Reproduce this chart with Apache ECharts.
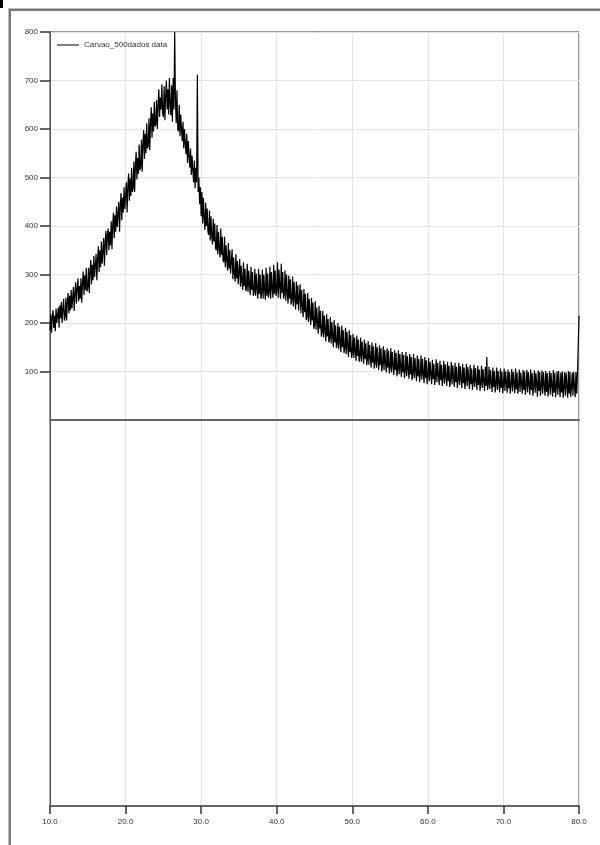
<!DOCTYPE html>
<html lang="en">

<head>
    <meta charset="UTF-8">
    <title>Carvao_500dados</title>
    <script src="https://cdn.jsdelivr.net/npm/echarts@6/dist/echarts.min.js"></script>
    <style>
        * {
            margin: 0;
            padding: 0;
        }
        body {
            width: 600px;
            height: 845px;
            background-color: #fff;
            overflow: hidden;
            position: relative;
        }
        .frame {
            position: absolute;
            left: 8px;
            top: 8px;
            width: 620px;
            height: 870px;
            border-left: 1px solid #bbb;
            border-top: 1px solid #bbb;
            box-shadow: inset 2px 2px 0 #777;
        }
        .mark {
            position: absolute;
            left: 0;
            top: 0;
            width: 3px;
            height: 8px;
            background: #000;
        }
        #box1 {
            position: absolute;
            left: 0;
            top: 0;
            width: 600px;
            height: 845px;
        }
    </style>
</head>

<body>
    <div class="mark"></div>
    <div class="frame"></div>
    <div id="box1"></div>
    <script>
        // 2theta from 10 to 80, step 0.1
        const twoThetaStart = 10;
        const twoThetaStep = 0.1;
        // intensity counts, 10 readings per degree
        const counts = [
            185, 218, 180, 212, 226, 190, 215, 183, 230, 200,   // 10
            198, 232, 190, 236, 210, 244, 200, 228, 250, 205,   // 11
            212, 252, 205, 244, 262, 220, 256, 226, 268, 230,   // 12
            232, 274, 225, 262, 284, 240, 270, 292, 245, 276,   // 13
            250, 292, 242, 284, 306, 258, 298, 268, 314, 265,   // 14
            272, 314, 262, 306, 330, 280, 320, 288, 338, 295,   // 15
            295, 342, 288, 332, 358, 305, 350, 315, 368, 322,   // 16
            326, 375, 318, 365, 390, 340, 382, 395, 350, 388,   // 17
            360, 410, 352, 402, 428, 375, 422, 388, 440, 398,   // 18
            395, 450, 388, 440, 468, 412, 458, 428, 480, 435,   // 19
            438, 490, 428, 482, 508, 452, 498, 462, 520, 470,   // 20
            478, 533, 470, 524, 553, 496, 540, 508, 568, 515,   // 21
            522, 578, 512, 570, 598, 538, 590, 550, 612, 560,   // 22
            565, 622, 556, 612, 645, 582, 632, 595, 656, 605,   // 23
            610, 660, 600, 648, 682, 625, 665, 640, 692, 632,   // 24
            625, 688, 618, 670, 700, 640, 682, 630, 705, 650,   // 25
            628, 690, 615, 705, 640, 800, 660, 612, 680, 600,   // 26
            595, 650, 585, 630, 600, 575, 615, 560, 600, 570,   // 27
            548, 590, 530, 575, 545, 520, 560, 505, 545, 515,   // 28
            490, 535, 478, 520, 490, 712, 470, 500, 445, 480,   // 29
            420, 470, 405, 458, 418, 392, 448, 400, 436, 388,   // 30
            382, 432, 370, 420, 380, 362, 415, 368, 405, 355,   // 31
            350, 402, 342, 388, 352, 335, 395, 340, 378, 330,   // 32
            325, 378, 315, 360, 328, 308, 365, 312, 350, 302,   // 33
            298, 352, 290, 335, 302, 285, 342, 292, 328, 280,   // 34
            282, 332, 275, 318, 285, 268, 325, 276, 312, 266,   // 35
            272, 322, 264, 308, 278, 258, 316, 268, 305, 256,   // 36
            262, 312, 256, 302, 270, 250, 312, 260, 300, 250,   // 37
            260, 310, 250, 300, 268, 248, 314, 256, 302, 252,   // 38
            262, 316, 250, 305, 270, 252, 320, 260, 308, 256,   // 39
            265, 325, 252, 310, 275, 250, 322, 262, 305, 250,   // 40
            258, 308, 246, 300, 262, 240, 298, 250, 290, 238,   // 41
            246, 296, 234, 285, 250, 228, 285, 238, 278, 226,   // 42
            230, 280, 220, 268, 235, 212, 270, 222, 260, 206,   // 43
            212, 262, 202, 250, 218, 196, 252, 205, 242, 188,   // 44
            196, 245, 186, 232, 200, 178, 235, 188, 225, 172,   // 45
            180, 225, 170, 215, 185, 162, 218, 172, 208, 160,   // 46
            168, 212, 158, 202, 172, 150, 206, 160, 195, 148,   // 47
            156, 200, 146, 192, 160, 140, 195, 150, 185, 138,   // 48
            146, 190, 136, 182, 150, 130, 185, 140, 175, 128,   // 49
            138, 178, 128, 170, 142, 122, 174, 132, 166, 120,   // 50
            130, 170, 120, 162, 135, 116, 166, 126, 158, 113,   // 51
            124, 163, 114, 155, 128, 108, 160, 118, 152, 106,   // 52
            118, 158, 108, 150, 122, 103, 154, 113, 148, 100,   // 53
            113, 152, 103, 145, 118, 98, 148, 108, 143, 96,     // 54
            108, 148, 98, 140, 112, 93, 144, 103, 138, 90,      // 55
            104, 144, 94, 136, 108, 89, 140, 98, 134, 86,       // 56
            100, 140, 90, 132, 104, 85, 136, 94, 130, 82,       // 57
            96, 136, 86, 128, 100, 80, 133, 90, 126, 78,        // 58
            93, 133, 83, 126, 96, 76, 130, 86, 123, 74,         // 59
            90, 128, 80, 120, 94, 74, 124, 84, 116, 72,         // 60
            88, 125, 78, 118, 92, 72, 122, 82, 114, 70,         // 61
            86, 122, 75, 115, 90, 70, 120, 80, 112, 68,         // 62
            84, 120, 73, 113, 88, 68, 118, 78, 110, 66,         // 63
            82, 118, 72, 111, 86, 66, 116, 76, 108, 64,         // 64
            80, 116, 70, 109, 84, 64, 114, 74, 106, 62,         // 65
            78, 114, 68, 107, 82, 62, 112, 72, 104, 60,         // 66
            76, 112, 66, 105, 80, 60, 110, 70, 130, 62,         // 67
            74, 110, 64, 103, 78, 58, 108, 68, 101, 57,         // 68
            73, 108, 62, 101, 77, 57, 106, 66, 100, 55,         // 69
            72, 106, 60, 100, 76, 56, 104, 65, 99, 54,          // 70
            71, 105, 59, 99, 75, 55, 106, 63, 98, 54,           // 71
            70, 104, 58, 98, 74, 54, 103, 62, 100, 52,          // 72
            70, 103, 57, 99, 73, 52, 104, 62, 97, 50,           // 73
            69, 102, 56, 97, 73, 48, 102, 60, 99, 50,           // 74
            68, 102, 54, 99, 72, 50, 101, 58, 97, 48,           // 75
            68, 101, 52, 97, 71, 48, 103, 56, 98, 47,           // 76
            67, 100, 52, 101, 70, 47, 98, 57, 100, 46,          // 77
            66, 99, 50, 97, 69, 46, 101, 54, 99, 48,            // 78
            66, 98, 50, 99, 68, 47, 99, 54, 96, 100,            // 79
            215                                                 // 80
        ];
        const yTicks = [100, 200, 300, 400, 500, 600, 700, 800];
        const seriesName = 'Carvao_500dados data';

        let points = [];
        for (let i = 0; i < counts.length; i++) {
            points.push([+(twoThetaStart + i * twoThetaStep).toFixed(2), counts[i]]);
        }

        const font = 'Liberation Sans';
        const gridColor = '#e3e3e3';

        var option = {
            animation: false,
            legend: {
                left: 52,
                top: 36,
                icon: 'rect',
                itemWidth: 22,
                itemHeight: 1,
                itemGap: 4,
                textStyle: { fontFamily: font, fontSize: 8, color: '#333' },
                data: [seriesName]
            },
            grid: [
                { left: 50, top: 32, width: 529, height: 388, show: true, borderColor: '#333', borderWidth: 1 },
                { left: 50, top: 420, width: 529, height: 386, show: true, borderColor: '#555', borderWidth: 1 }
            ],
            xAxis: [
                {
                    gridIndex: 0, type: 'value', min: 10, max: 80, interval: 10,
                    axisLine: { show: true, onZero: false, lineStyle: { color: '#666', width: 2 } },
                    axisTick: { show: false },
                    axisLabel: { show: false },
                    splitLine: { show: true, lineStyle: { color: gridColor } }
                },
                {
                    gridIndex: 1, type: 'value', min: 10, max: 80, interval: 10, position: 'bottom',
                    axisLine: { show: true, onZero: false, lineStyle: { color: '#666', width: 2 } },
                    axisTick: { show: true, length: 8, lineStyle: { color: '#333', width: 1.5 } },
                    axisLabel: {
                        fontFamily: font, fontSize: 8, color: '#333', margin: 12,
                        formatter: v => v.toFixed(1)
                    },
                    splitLine: { show: true, lineStyle: { color: gridColor } }
                }
            ],
            yAxis: [
                {
                    gridIndex: 0, type: 'value', min: 0, max: 800, interval: 100,
                    axisLine: { show: true, lineStyle: { color: '#555' } },
                    axisTick: { show: true, inside: false, length: 10, customValues: yTicks, lineStyle: { color: '#333', width: 1.5 } },
                    axisLabel: { fontFamily: font, fontSize: 8, color: '#333', margin: 12, customValues: yTicks },
                    splitLine: { show: true, lineStyle: { color: gridColor } }
                },
                {
                    gridIndex: 1, type: 'value', min: -800, max: 0,
                    axisLine: { show: true, lineStyle: { color: '#555' } },
                    axisTick: { show: false },
                    axisLabel: { show: false },
                    splitLine: { show: false }
                }
            ],
            series: [{
                name: seriesName,
                type: 'line',
                xAxisIndex: 0,
                yAxisIndex: 0,
                showSymbol: false,
                lineStyle: { color: '#000', width: 1.2 },
                itemStyle: { color: '#000' },
                data: points
            }]
        };
        echarts.init(document.querySelector('#box1')).setOption(option);
    </script>
</body>

</html>
